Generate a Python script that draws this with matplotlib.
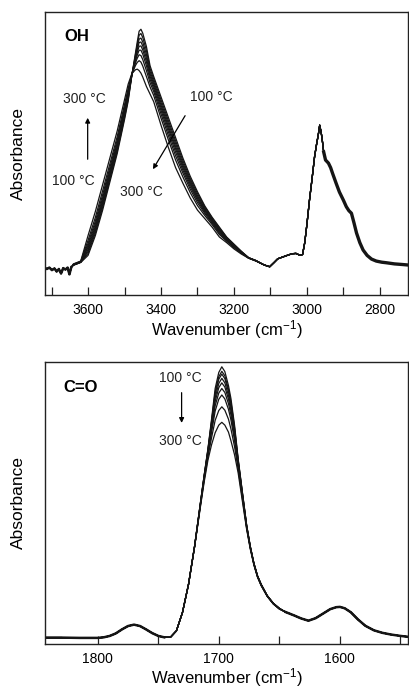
import numpy as np
import matplotlib
matplotlib.use('Agg')
import matplotlib.pyplot as plt
from matplotlib.ticker import MultipleLocator

plt.rcParams['font.family'] = ['Liberation Sans', 'DejaVu Sans']
plt.rcParams['mathtext.fontset'] = 'custom'
plt.rcParams['mathtext.rm'] = 'Liberation Sans'
plt.rcParams['mathtext.default'] = 'regular'

LINE = '#151515'

# -------------------- OH region (upper panel) --------------------
temps = [100, 125, 150, 175, 200, 225, 250, 275, 300]

# noisy baseline shared by all spectra
oh_left_wn = [3722, 3713, 3706, 3699, 3692, 3686, 3680, 3674, 3668, 3662, 3656, 3651, 3646]
oh_left_abs = [.099, .092, .097, .088, .094, .083, .092, .076, .095, .090, .097, .073, .098]

# temperature dependent OH band
oh_wn = [3640, 3620, 3600, 3580, 3560, 3540, 3520, 3500, 3490, 3480,
         3470, 3465, 3460, 3455, 3450, 3440, 3430, 3420, 3400, 3380,
         3360, 3340, 3320, 3300, 3280, 3260, 3240, 3220, 3200, 3180,
         3160, 3140, 3120]
oh_100 = [.105, .115, .140, .210, .300, .400, .500, .620, .685, .775,
          .855, .895, .932, .939, .925, .878, .810, .772, .700, .628,
          .556, .484, .420, .365, .315, .275, .240, .205, .180, .155,
          .132, .122, .108]
oh_125 = [.106, .116, .147, .219, .309, .409, .508, .627, .691, .776,
          .849, .885, .918, .924, .910, .864, .800, .763, .690, .617,
          .545, .475, .412, .359, .311, .272, .237, .203, .178, .154,
          .132, .122, .108]
oh_150 = [.106, .116, .154, .227, .318, .417, .516, .634, .697, .776,
          .843, .876, .904, .908, .894, .850, .790, .754, .680, .607,
          .535, .466, .405, .352, .306, .268, .233, .201, .177, .153,
          .132, .122, .108]
oh_175 = [.106, .116, .160, .235, .326, .425, .523, .640, .702, .777,
          .838, .867, .892, .894, .880, .837, .781, .746, .671, .597,
          .525, .458, .398, .346, .302, .265, .230, .199, .175, .152,
          .131, .121, .108]
oh_200 = [.107, .117, .167, .242, .334, .432, .530, .647, .708, .778,
          .833, .858, .879, .880, .866, .824, .772, .738, .662, .588,
          .516, .450, .391, .340, .298, .262, .227, .197, .174, .151,
          .131, .121, .108]
oh_225 = [.107, .117, .174, .251, .343, .441, .538, .654, .714, .778,
          .827, .848, .865, .865, .851, .810, .762, .729, .652, .577,
          .505, .441, .383, .334, .293, .258, .223, .195, .172, .150,
          .131, .121, .108]
oh_250 = [.108, .118, .182, .261, .354, .451, .548, .662, .721, .779,
          .820, .837, .849, .846, .832, .793, .750, .719, .640, .564,
          .492, .431, .374, .326, .288, .254, .219, .193, .170, .149,
          .131, .121, .108]
oh_275 = [.109, .119, .193, .274, .368, .464, .560, .673, .730, .780,
          .811, .822, .828, .823, .809, .772, .735, .705, .625, .549,
          .477, .417, .362, .316, .281, .249, .214, .190, .167, .148,
          .131, .121, .108]
oh_300 = [.110, .120, .210, .295, .390, .485, .580, .690, .745, .782,
          .796, .798, .793, .784, .770, .737, .710, .683, .600, .522,
          .450, .395, .343, .300, .270, .240, .205, .185, .163, .145,
          .130, .120, .108]
oh_curves = [oh_100, oh_125, oh_150, oh_175, oh_200, oh_225, oh_250, oh_275, oh_300]

# CH stretching region shared by all spectra
oh_right_wn = [3110, 3102, 3090, 3080, 3065, 3050, 3040, 3030, 3020, 3012,
               3006, 3000, 2993, 2986, 2979, 2973, 2969, 2965, 2961, 2958,
               2954, 2949, 2941, 2935, 2930, 2920, 2911, 2900, 2892, 2885,
               2878, 2871, 2864, 2855, 2846, 2835, 2823, 2810, 2795, 2782,
               2760, 2740, 2722]
oh_right_abs = [.103, .100, .115, .128, .135, .142, .146, .147, .141, .143,
                .185, .250, .335, .410, .489, .537, .565, .600, .575, .548,
                .505, .477, .466, .450, .431, .395, .364, .335, .312, .298,
                .289, .255, .219, .185, .159, .140, .127, .120, .116, .114,
                .110, .108, .106]

# -------------------- C=O region (lower panel) --------------------
co_left_wn = [1845, 1830, 1815, 1800, 1795, 1790, 1785, 1780, 1775, 1770,
              1765, 1760, 1755, 1750, 1745]
co_left_abs = [.021, .021, .020, .020, .022, .027, .036, .050, .062, .067,
               .062, .050, .037, .027, .022]

co_wn = [1740, 1735, 1730, 1725, 1720, 1715, 1712, 1709, 1706, 1703,
         1700, 1697.5, 1695, 1692, 1690, 1687, 1684, 1680, 1677, 1674,
         1671, 1668, 1665, 1660, 1655, 1650]
co_100 = [.022, .045, .110, .210, .345, .505, .600, .690, .795, .905,
          .962, .982, .965, .915, .870, .775, .655, .520, .420, .345,
          .285, .240, .210, .170, .143, .125]
co_125 = [.022, .045, .110, .210, .345, .504, .598, .687, .788, .892,
          .947, .966, .950, .902, .858, .767, .651, .518, .419, .344,
          .284, .240, .210, .170, .143, .125]
co_150 = [.022, .045, .110, .210, .345, .503, .597, .685, .783, .885,
          .938, .956, .940, .894, .851, .761, .649, .516, .418, .344,
          .284, .239, .209, .170, .143, .125]
co_175 = [.022, .045, .110, .210, .344, .502, .595, .682, .776, .872,
          .923, .941, .925, .880, .839, .753, .645, .514, .417, .343,
          .284, .239, .209, .169, .142, .124]
co_200 = [.022, .045, .110, .210, .344, .501, .593, .678, .769, .859,
          .908, .925, .910, .867, .827, .745, .641, .511, .416, .342,
          .283, .239, .209, .169, .142, .124]
co_225 = [.022, .045, .110, .210, .344, .499, .590, .674, .760, .844,
          .889, .905, .891, .851, .812, .734, .636, .508, .414, .341,
          .282, .238, .208, .169, .142, .124]
co_250 = [.022, .045, .110, .210, .344, .497, .587, .670, .749, .825,
          .867, .882, .868, .831, .794, .721, .630, .505, .412, .340,
          .281, .237, .207, .168, .141, .123]
co_275 = [.022, .045, .110, .210, .343, .494, .582, .661, .730, .792,
          .827, .840, .828, .796, .762, .699, .619, .498, .409, .338,
          .280, .236, .206, .168, .141, .123]
co_300 = [.022, .045, .110, .210, .343, .490, .575, .650, .705, .748,
          .775, .785, .775, .750, .720, .670, .605, .490, .405, .335,
          .278, .235, .205, .167, .140, .122]
co_curves = [co_100, co_125, co_150, co_175, co_200, co_225, co_250, co_275, co_300]

co_right_wn = [1645, 1638, 1632, 1626, 1620, 1614, 1608, 1603, 1600, 1596,
               1591, 1585, 1579, 1572, 1565, 1558, 1550, 1544]
co_right_abs = [.112, .100, .089, .081, .090, .106, .122, .129, .130, .125,
                .111, .085, .063, .047, .038, .032, .027, .024]


def style_axis(ax, xlim, major, minor):
    ax.set_xlim(*xlim)
    ax.set_ylim(0, 1)
    ax.set_yticks([])
    ax.xaxis.set_major_locator(MultipleLocator(major))
    ax.xaxis.set_minor_locator(MultipleLocator(minor))
    ax.tick_params(axis='x', which='both', direction='in', length=5.5,
                   width=0.9, color='#222222', labelsize=10, pad=6)
    for s in ax.spines.values():
        s.set_linewidth(1.0)
        s.set_color('#222222')
    ax.set_xlabel('Wavenumber (cm$^{-1}$)', fontsize=12, labelpad=0.5)
    ax.set_ylabel('Absorbance', fontsize=12.5, labelpad=14)


def draw_family(ax, left_wn, left_abs, mid_wn, curves, right_wn, right_abs):
    for c in curves:
        x = np.concatenate([left_wn, mid_wn, right_wn])
        y = np.concatenate([left_abs, c, right_abs])
        ax.plot(x, y, color=LINE, lw=0.9, solid_joinstyle='round')


fig = plt.figure(figsize=(4.09, 6.89), dpi=100)
ax1 = fig.add_axes([0.110, 0.5718, 0.8875, 0.4108])
ax2 = fig.add_axes([0.110, 0.0660, 0.8875, 0.4090])

# ---- upper panel ----
draw_family(ax1, oh_left_wn, oh_left_abs, oh_wn, oh_curves, oh_right_wn, oh_right_abs)
rw = np.array(oh_right_wn)
ra = np.array(oh_right_abs)
thick = rw <= 2955
ax1.plot(rw[thick], ra[thick], color=LINE, lw=2.4, solid_joinstyle='round')
ax1.plot(oh_left_wn, oh_left_abs, color=LINE, lw=1.8)
style_axis(ax1, (3718, 2723), 200, 100)

ax1.text(3664, 0.915, 'OH', fontsize=12, fontweight='bold', ha='left', va='center')
ax1.text(3609, 0.693, '300 °C', fontsize=10, ha='center', va='center', color='#222222')
ax1.text(3639, 0.403, '100 °C', fontsize=10, ha='center', va='center', color='#222222')
ax1.annotate('', xy=(3601, 0.636), xytext=(3601, 0.47),
             arrowprops=dict(arrowstyle='-|>', lw=0.9, color='k', mutation_scale=7))
ax1.text(3261, 0.70, '100 °C', fontsize=10, ha='center', va='center', color='#222222')
ax1.text(3453, 0.364, '300 °C', fontsize=10, ha='center', va='center', color='#222222')
ax1.annotate('', xy=(3426, 0.436), xytext=(3330, 0.642),
             arrowprops=dict(arrowstyle='-|>', lw=0.9, color='k', mutation_scale=7))

# ---- lower panel ----
draw_family(ax2, co_left_wn, co_left_abs, co_wn, co_curves, co_right_wn, co_right_abs)
ax2.plot(co_left_wn, co_left_abs, color=LINE, lw=1.8)
ax2.plot(co_right_wn, co_right_abs, color=LINE, lw=1.8)
style_axis(ax2, (1843.5, 1543.8), 100, 50)

ax2.text(1828.6, 0.909, 'C=O', fontsize=12, fontweight='bold', ha='left', va='center')
ax2.text(1731.7, 0.942, '100 °C', fontsize=10, ha='center', va='center', color='#222222')
ax2.text(1732, 0.717, '300 °C', fontsize=10, ha='center', va='center', color='#222222')
ax2.annotate('', xy=(1730.7, 0.773), xytext=(1730.7, 0.90),
             arrowprops=dict(arrowstyle='-|>', lw=0.9, color='k', mutation_scale=7))

fig.savefig('out.png', dpi=100)
